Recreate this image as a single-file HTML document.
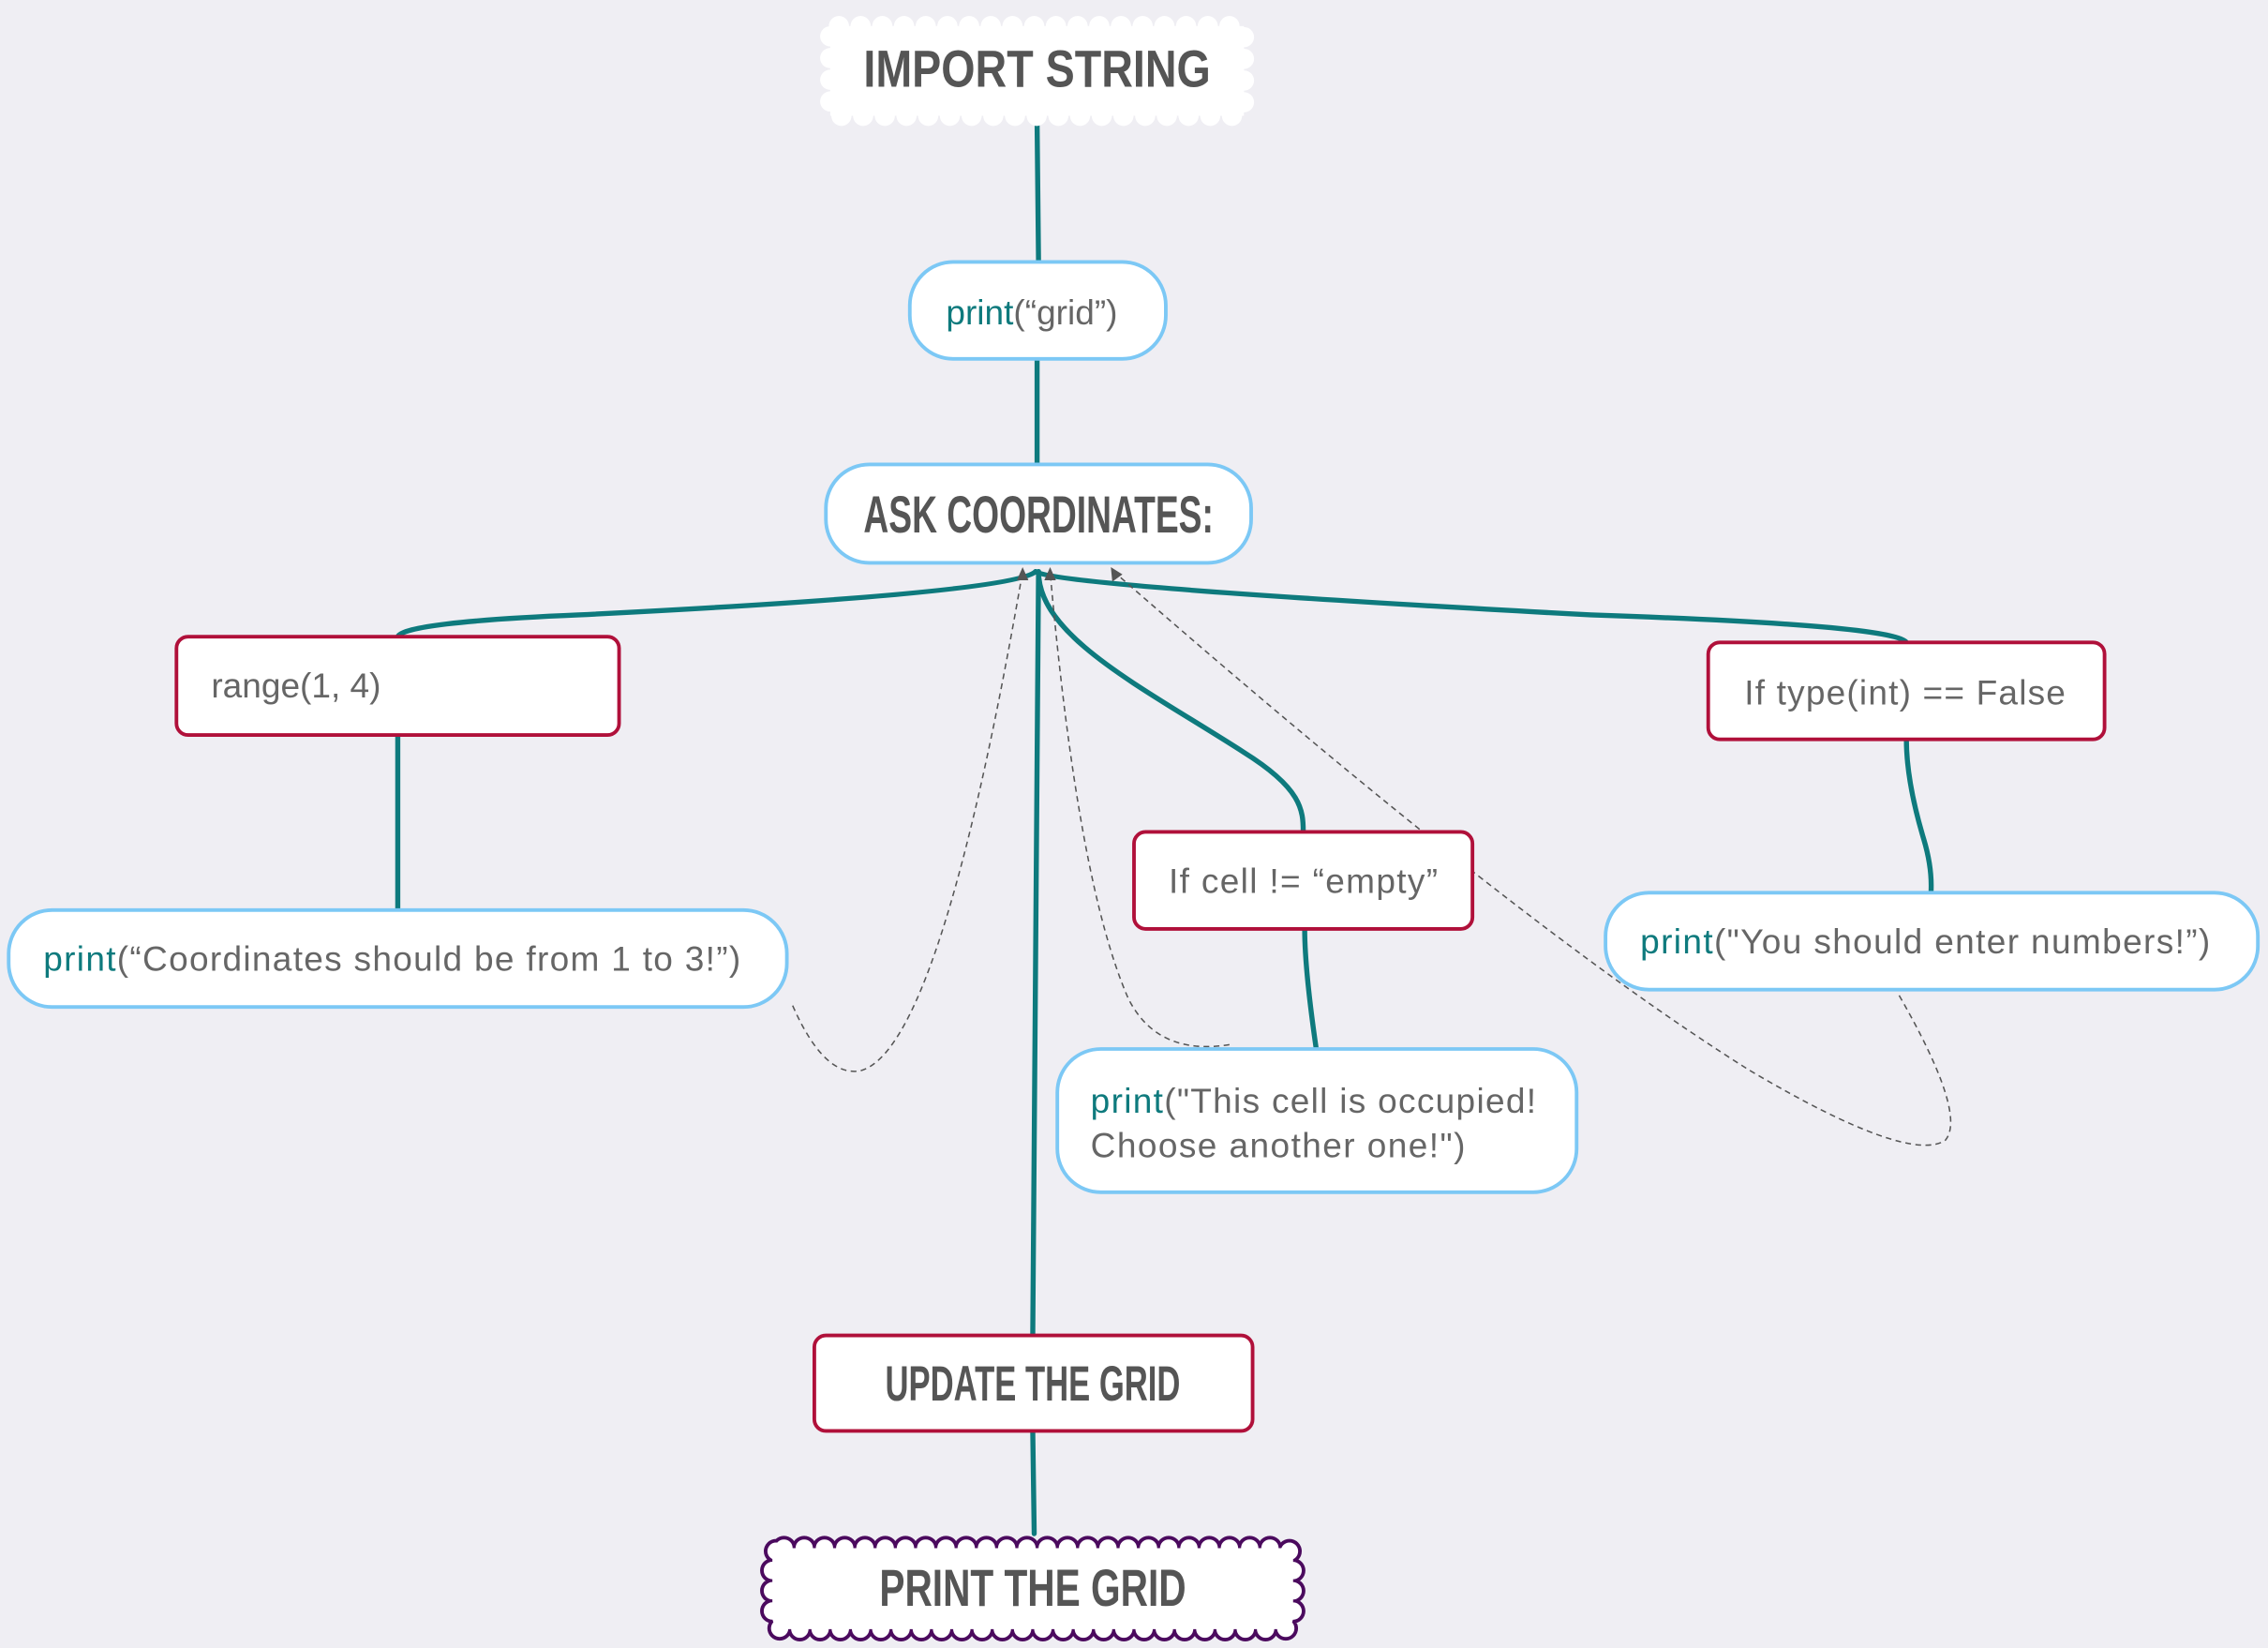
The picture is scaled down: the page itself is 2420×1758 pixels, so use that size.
<!DOCTYPE html>
<html><head><meta charset="utf-8"><style>
html,body{margin:0;padding:0;background:#efeef3;}
svg{display:block}
.t{font-family:"Liberation Sans",sans-serif;font-size:24px;fill:#666}
.p{fill:#0e7a7d}
.h{font-family:"Liberation Sans Narrow","Liberation Sans",sans-serif;font-weight:bold;fill:#555;font-stretch:condensed}
</style></head><body>
<svg width="2420" height="1758" viewBox="0 0 1568 1139" xmlns="http://www.w3.org/2000/svg">
<rect width="1568" height="1139" fill="#efeef3"/>
<g fill="none" stroke="#0e7a7d" stroke-width="3.5" stroke-linecap="round">
<path d="M717 85 L718 181"/>
<path d="M717 248 L717 321"/>
<path d="M716 395 Q700 410 400 425 Q280 430 275 440"/>
<path d="M716 395 Q730 405 1100 425 Q1310 432 1318 444"/>
<path d="M275 508 L275 629"/>
<path d="M718 395 C718 440 790 475 860 520 C900 545 901 560 901 575"/>
<path d="M902 642 Q902 670 910 725"/>
<path d="M1318 511 Q1318 540 1330 580 Q1336 600 1335 617"/>
<path d="M718 395 L714 923"/>
<path d="M714 989 L715 1060"/>
</g>
<g fill="none" stroke="#555" stroke-width="1" stroke-dasharray="4,3">
<path d="M548 695 Q570 745 595 740 Q650 725 707 395"/>
<path d="M850 722 Q800 730 780 690 Q745 610 726 395"/>
<path d="M1313 688 Q1360 770 1345 788 Q1320 805 1210 740 Q1050 640 770 395"/>
</g>
<g fill="#555"><path d="M707 392 l-4 9 l8 0z"/><path d="M726 392 l-4 9 l8 0z"/><path d="M768 392 l1 10 l7 -5z"/></g>
<!-- top cloud -->
<rect x="574" y="18" width="286" height="62" rx="6" fill="#fff" stroke="#fff" stroke-width="14" stroke-linecap="round" stroke-dasharray="0 15"/>
<rect x="574" y="18" width="286" height="62" fill="#fff"/>
<text class="h" x="717" y="60" text-anchor="middle" font-size="36" textLength="240" lengthAdjust="spacingAndGlyphs" fill="#4a4a4a">IMPORT STRING</text>
<!-- boxes -->
<g fill="#fff" stroke="#7cc8f5" stroke-width="2.5">
<rect x="629" y="181" width="177" height="67" rx="30"/>
<rect x="571" y="321" width="294" height="68" rx="30"/>
<rect x="6" y="629" width="538" height="67" rx="30"/>
<rect x="731" y="725" width="359" height="99" rx="30"/>
<rect x="1110" y="617" width="451" height="67" rx="30"/>
</g>
<g fill="#fff" stroke="#b0103a" stroke-width="2.5">
<rect x="122" y="440" width="306" height="68" rx="8"/>
<rect x="784" y="575" width="234" height="67" rx="8"/>
<rect x="1181" y="444" width="274" height="67" rx="8"/>
<rect x="563" y="923" width="303" height="66" rx="8"/>
</g>
<text class="t" x="654" y="224"><tspan class="p">print</tspan>(“grid”)</text>
<text class="h" x="718" y="368" text-anchor="middle" font-size="36" textLength="242" lengthAdjust="spacingAndGlyphs" fill="#666">ASK COORDINATES:</text>
<text class="t" x="146" y="482">range(1, 4)</text>
<text class="t" x="30" y="671" textLength="482"><tspan class="p">print</tspan>(“Coordinates should be from 1 to 3!”)</text>
<text class="t" x="808" y="617" textLength="186">If cell != “empty”</text>
<text class="t" x="754" y="769" textLength="308"><tspan class="p">print</tspan>("This cell is occupied!</text>
<text class="t" x="754" y="800" textLength="259">Choose another one!")</text>
<text class="t" x="1206" y="487" textLength="222">If type(int) == False</text>
<text class="t" x="1134" y="659" textLength="394"><tspan class="p">print</tspan>("You should enter numbers!”)</text>
<text class="h" x="714" y="968" text-anchor="middle" font-size="34" textLength="204" lengthAdjust="spacingAndGlyphs" fill="#666">UPDATE THE  GRID</text>
<!-- bottom cloud -->
<rect x="534" y="1070" width="360" height="56" rx="8" fill="none" stroke="#4b0a5e" stroke-width="17" stroke-linecap="round" stroke-dasharray="0 14"/>
<rect x="534" y="1070" width="360" height="56" rx="8" fill="none" stroke="#fff" stroke-width="12" stroke-linecap="round" stroke-dasharray="0 14"/>
<rect x="534" y="1070" width="360" height="56" rx="8" fill="#fff"/>
<text class="h" x="714" y="1110" text-anchor="middle" font-size="36" textLength="212" lengthAdjust="spacingAndGlyphs" fill="#666">PRINT THE GRID</text>
</svg>
</body></html>
